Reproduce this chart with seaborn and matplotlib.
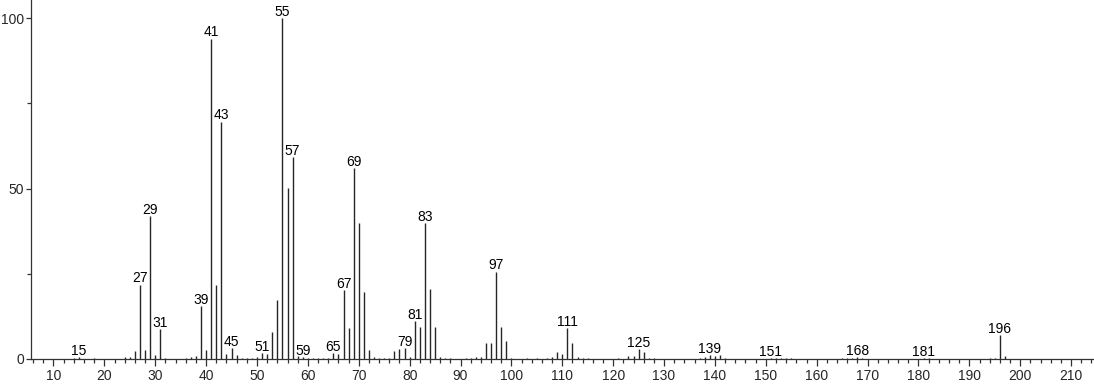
import matplotlib
matplotlib.use("Agg")
import matplotlib.pyplot as plt
import seaborn as sns
import pandas as pd
from matplotlib.ticker import MultipleLocator

# m/z values and relative intensities
mz = [14, 15, 18, 24, 25, 26, 27, 28, 29, 30, 31, 32, 36, 37, 38, 39, 40, 41, 42, 43,
      44, 45, 46, 47, 48, 49, 50, 51, 52, 53, 54, 55, 56, 57, 58, 59, 60, 61, 62, 63,
      64, 65, 66, 67, 68, 69, 70, 71, 72, 73, 74, 75, 76, 77, 78, 79, 80, 81, 82, 83,
      84, 85, 86, 87, 88, 91, 92, 93, 94, 95, 96, 97, 98, 99, 100, 103, 105, 107, 108,
      109, 110, 111, 112, 113, 114, 115, 121, 123, 124, 125, 126, 127, 128, 137, 138,
      139, 140, 141, 142, 151, 152, 153, 154, 155, 165, 166, 167, 168, 169, 181, 182,
      194, 195, 196, 197]
intensity = [0.3, 0.5, 0.2, 0.5, 0.6, 2.2, 21.8, 2.6, 42.0, 1.2, 8.8, 0.3, 0.3, 0.5, 0.8, 15.4,
             2.6, 94.0, 21.7, 69.6, 1.6, 3.2, 1.2, 0.4, 0.3, 0.4, 0.6, 1.7, 1.5, 8.0, 17.4, 100.0,
             50.2, 59.2, 1.0, 0.6, 0.3, 0.3, 0.4, 0.3, 0.3, 1.8, 1.5, 20.3, 9.0, 56.0, 40.0,
             19.6, 2.7, 0.5, 0.4, 0.3, 0.4, 2.2, 2.9, 3.1, 0.7, 11.0, 9.5, 39.8, 20.4, 9.5, 0.6,
             0.4, 0.3, 0.3, 0.4, 0.5, 0.5, 4.6, 4.6, 25.6, 9.3, 5.3, 0.3, 0.3, 0.3, 0.3, 0.5,
             2.0, 1.4, 9.0, 4.6, 0.5, 0.3, 0.2, 0.3, 0.8, 1.0, 3.0, 2.0, 0.3, 0.2, 0.3, 0.5,
             1.1, 0.8, 1.1, 0.3, 0.3, 0.4, 0.3, 0.3, 0.2, 0.3, 0.3, 0.4, 0.5, 0.2, 0.3, 0.2,
             0.3, 0.3, 6.9, 0.8]
labelled = [15, 27, 29, 31, 39, 41, 43, 45, 51, 55, 57, 59, 65, 67, 69, 79, 81, 83, 97,
            111, 125, 139, 151, 168, 181, 196]
x_ticks = list(range(10, 211, 10))
y_ticks = [0, 50, 100]

df = pd.DataFrame({"mz": mz, "intensity": intensity})

sns.set_style("ticks")
plt.rcParams["font.family"] = ["Liberation Sans", "DejaVu Sans"]

fig = plt.figure(figsize=(10.94, 3.84), dpi=100)
ax = fig.add_axes([30.5 / 1094, 1 - 359 / 384, 1 - 30.5 / 1094, 359 / 384])

ax.vlines(df["mz"], 0, df["intensity"], color="#262626", linewidth=1.0)

lookup = dict(zip(mz, intensity))
for m in labelled:
    ax.annotate(str(m), (m, lookup[m]), xytext=(0, 1.6), textcoords="offset points",
                ha="center", va="baseline", fontsize=10, color="black")

ax.set_xlim(5.48, 214.5)
ax.set_ylim(0, 105.3)
ax.set_xticks(x_ticks)
ax.set_yticks(y_ticks)
ax.xaxis.set_minor_locator(MultipleLocator(2))
ax.yaxis.set_minor_locator(MultipleLocator(25))
ax.tick_params(axis="x", which="major", labelsize=10, length=5, width=0.9, color="#333333", pad=2)
ax.tick_params(axis="y", which="major", labelsize=10, length=3.5, width=0.9, color="#333333", pad=1)
ax.tick_params(axis="both", which="minor", length=3, width=0.9, color="#333333")
sns.despine(ax=ax, top=True, right=True)
for s in ["left", "bottom"]:
    ax.spines[s].set_color("#333333")
    ax.spines[s].set_linewidth(0.9)
ax.set_xlabel("")
ax.set_ylabel("")

fig.savefig("out.png", dpi=100)
